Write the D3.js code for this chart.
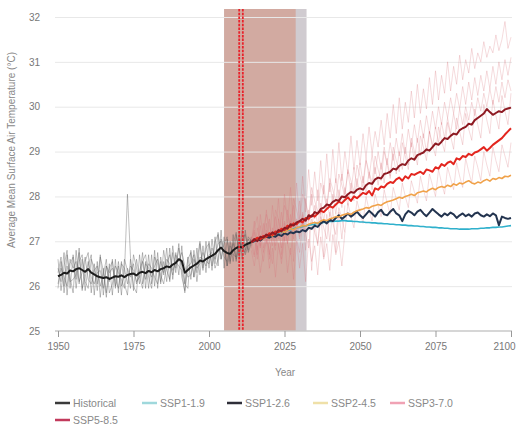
<!DOCTYPE html>
<html><head><meta charset="utf-8">
<script src="https://cdn.jsdelivr.net/npm/d3@7"></script>
<style>
html,body{margin:0;padding:0;background:#fff;}
svg{display:block;font-family:"Liberation Sans",Arial,sans-serif;}
</style></head>
<body><svg id="c" width="516" height="428"></svg>
<script>
// ---------- DATA ----------
const xTicks = [1950,1975,2000,2025,2050,2075,2100];
const yTicks = [25,26,27,28,29,30,31,32];
const histStart = 1950;
const futStart = 2014;

const historicalMean = [26.22,26.25,26.30,26.28,26.35,26.33,26.38,26.40,26.36,26.32,
26.38,26.30,26.26,26.22,26.20,26.18,26.20,26.16,26.19,26.22,
26.21,26.24,26.20,26.25,26.27,26.28,26.24,26.30,26.32,26.29,
26.34,26.31,26.36,26.33,26.38,26.40,26.44,26.42,26.48,26.52,
26.60,26.56,26.30,26.36,26.42,26.46,26.50,26.57,26.55,26.60,
26.64,26.68,26.72,26.80,26.86,26.78,26.74,26.72,26.80,26.85,
26.88,26.86,26.92,26.95,26.98];

const histMember1 = [26.60,25.90,26.45,26.80,25.95,26.70,26.15,26.85,25.90,26.55,
26.75,25.85,26.50,26.05,26.70,25.80,26.45,26.10,26.60,25.95,
26.55,26.00,26.30,28.05,26.65,25.90,26.60,26.20,26.75,25.95,
26.70,26.05,26.80,25.95,26.65,26.25,26.85,26.10,26.75,26.30,
26.95,26.20,25.90,26.65,26.15,26.80,26.30,26.95,26.35,27.00,
26.40,27.05,26.50,27.20,26.60,27.10,26.45,27.00,26.55,27.15,
26.70,27.25,26.80,27.10,27.00];
const histMember2 = [25.95,26.55,26.00,26.70,26.20,25.85,26.80,26.05,26.60,25.90,
26.45,26.70,25.80,26.55,25.75,26.40,25.85,26.50,25.80,26.60,
25.85,26.55,26.05,25.80,26.60,26.00,25.85,26.70,26.05,26.55,
25.95,26.70,26.00,26.75,26.05,26.55,26.10,26.85,26.15,26.75,
26.25,26.90,26.05,25.95,26.80,26.20,26.85,26.25,26.90,26.30,
27.00,26.35,27.10,26.45,27.25,26.40,27.05,26.50,27.15,26.55,
27.20,26.60,27.25,26.75,26.95];
const histMember3 = [26.40,26.10,26.75,25.80,26.50,26.65,25.95,26.55,26.70,26.10,
25.95,26.60,26.40,25.90,26.65,26.35,25.75,26.40,26.55,26.00,
26.45,25.80,26.60,26.35,25.95,26.70,26.40,26.05,26.55,26.70,
26.20,25.95,26.65,26.50,26.10,26.80,26.35,26.15,26.90,26.40,
26.85,26.45,26.05,26.60,26.75,26.20,26.55,27.00,26.40,26.85,
26.95,26.45,27.00,27.15,26.60,26.95,27.10,26.55,26.95,27.20,
26.65,27.05,27.15,26.80,27.10];
const histMember4 = [26.05,26.40,26.20,26.00,26.60,26.40,26.55,26.10,26.30,26.65,
26.15,26.05,26.35,26.45,26.00,26.25,26.60,25.85,26.05,26.45,
26.30,26.15,25.95,26.40,26.20,26.50,26.05,26.35,26.55,26.15,
26.50,26.40,26.20,26.05,26.55,26.30,26.60,26.50,26.25,26.70,
26.55,26.75,26.45,26.20,26.25,26.60,26.40,26.50,26.75,26.55,
26.50,26.85,26.60,26.95,27.00,26.65,26.55,26.90,26.70,26.65,
27.00,26.85,26.75,27.05,26.90];
const histMember5 = [26.30,26.65,25.85,26.45,26.10,26.15,26.25,26.75,25.95,26.20,
26.55,26.20,26.05,26.30,26.35,25.95,26.45,26.30,26.40,26.15,
25.95,26.50,26.40,26.05,26.45,26.35,26.10,26.20,25.95,26.50,
26.40,26.20,26.45,26.60,26.25,26.05,26.50,26.70,26.35,26.55,
26.45,26.35,25.85,26.45,26.50,26.70,26.10,26.65,26.60,26.45,
26.70,26.75,26.40,26.60,27.05,26.85,26.45,26.75,26.95,26.60,
26.85,26.95,26.70,26.90,27.05];

// scenario means, 2014..2100
const ssp585 = [26.98,27.05,27.00,27.10,27.08,27.15,
27.12,27.20,27.15,27.25,27.22,27.30,27.28,27.38,27.35,27.42,
27.45,27.50,27.46,27.58,27.55,27.65,27.62,27.72,27.75,27.82,
27.80,27.88,27.92,27.90,28.00,27.98,28.05,28.10,28.08,28.15,
28.18,28.15,28.25,28.30,28.28,28.38,28.42,28.40,28.50,28.52,
28.55,28.62,28.60,28.68,28.72,28.70,28.80,28.85,28.82,28.92,
28.95,28.98,29.05,29.02,29.10,29.18,29.15,29.22,29.30,29.28,
29.35,29.40,29.38,29.48,29.52,29.55,29.62,29.60,29.70,29.75,
29.80,29.85,29.95,29.88,29.82,29.86,29.90,29.88,29.94,29.96,29.98];
const ssp370 = [26.98,27.02,27.08,27.04,27.12,27.10,
27.18,27.14,27.22,27.20,27.28,27.25,27.35,27.32,27.40,27.38,
27.45,27.42,27.52,27.50,27.58,27.55,27.62,27.68,27.65,27.72,
27.78,27.75,27.82,27.88,27.85,27.92,27.98,27.90,28.00,27.96,
28.02,28.08,28.05,28.12,28.02,28.18,28.15,28.22,28.20,28.28,
28.32,28.30,28.38,28.42,28.35,28.45,28.40,28.50,28.48,28.52,
28.55,28.50,28.60,28.58,28.55,28.65,28.62,28.72,28.68,28.75,
28.78,28.72,28.85,28.82,28.90,28.88,28.95,28.92,28.98,29.00,
29.05,29.10,29.02,29.08,29.15,29.20,29.25,29.30,29.38,29.45,29.52];
const ssp245 = [26.98,27.02,27.05,27.08,27.06,27.12,
27.15,27.12,27.18,27.20,27.22,27.20,27.25,27.28,27.26,27.30,
27.32,27.35,27.34,27.38,27.40,27.42,27.40,27.45,27.48,27.46,
27.50,27.52,27.55,27.54,27.58,27.60,27.62,27.60,27.65,27.68,
27.70,27.72,27.75,27.74,27.78,27.80,27.82,27.80,27.85,27.88,
27.90,27.92,27.95,27.98,27.96,28.00,28.02,28.05,28.02,28.08,
28.10,28.12,28.10,28.15,28.18,28.15,28.20,28.22,28.20,28.25,
28.22,28.28,28.25,28.30,28.28,28.32,28.35,28.30,28.28,28.32,
28.30,28.35,28.38,28.34,28.40,28.38,28.42,28.40,28.45,28.44,28.47];
const ssp126 = [26.98,27.00,27.05,27.02,27.08,27.10,
27.08,27.12,27.10,27.15,27.12,27.18,27.15,27.20,27.18,27.22,
27.20,27.25,27.22,27.30,27.28,27.35,27.32,27.40,27.45,27.40,
27.48,27.45,27.52,27.58,27.50,27.55,27.62,27.55,27.60,27.66,
27.58,27.52,27.60,27.68,27.62,27.55,27.65,27.70,27.60,27.58,
27.66,27.72,27.62,27.58,27.45,27.60,27.68,27.64,27.58,27.66,
27.70,27.62,27.56,27.64,27.72,27.66,27.60,27.55,27.62,27.58,
27.64,27.60,27.52,27.58,27.62,27.56,27.60,27.55,27.62,27.64,
27.58,27.55,27.60,27.56,27.62,27.58,27.36,27.55,27.52,27.50,27.52];
const ssp119 = [26.98,27.00,27.03,27.05,27.08,27.10,
27.12,27.14,27.16,27.18,27.20,27.22,27.24,27.26,27.28,27.30,
27.31,27.33,27.34,27.36,27.37,27.38,27.40,27.41,27.42,27.43,
27.44,27.44,27.45,27.45,27.46,27.46,27.45,27.45,27.44,27.44,
27.43,27.43,27.42,27.42,27.41,27.41,27.40,27.40,27.39,27.39,
27.38,27.38,27.37,27.37,27.36,27.36,27.35,27.35,27.34,27.34,
27.33,27.33,27.32,27.32,27.31,27.31,27.30,27.30,27.29,27.29,
27.28,27.28,27.28,27.27,27.27,27.27,27.27,27.28,27.28,27.28,
27.29,27.29,27.30,27.30,27.31,27.31,27.32,27.32,27.33,27.34,27.35];

// scenario ensemble members, 2014..
const futMember1 = [26.95,27.45,26.80,27.60,27.05,27.70,
26.95,27.80,27.20,27.95,27.10,28.05,27.40,28.20,27.35,28.30,
27.50,28.45,27.65,28.60,27.80,28.55,27.90,28.80,28.05,28.95,
28.10,29.05,28.30,29.20,28.35,29.00,28.50,29.35,28.60,29.25,
28.70,29.40,28.85,29.55,28.95,29.45,29.10,29.70,29.15,29.85,
29.30,30.05,29.40,30.20,29.50,30.10,29.65,30.35,29.75,30.50,
29.85,30.40,29.95,30.65,30.05,30.80,30.15,30.70,30.30,31.00,
30.35,30.90,30.50,31.15,30.60,31.05,30.75,31.30,30.85,31.20,
31.00,31.45,31.10,31.35,31.20,31.60,31.25,31.50,31.90,31.30,31.55];
const futMember2 = [27.10,26.70,27.30,26.85,27.40,26.95,
27.50,26.90,27.55,27.05,27.65,27.00,27.70,27.15,27.80,27.20,
27.90,27.30,27.95,27.45,28.05,27.50,28.15,27.60,28.25,27.75,
28.30,27.85,28.40,27.90,28.50,28.05,28.55,28.10,28.65,28.20,
28.75,28.30,28.85,28.40,28.95,28.50,29.00,28.60,29.10,28.70,
29.20,28.80,29.30,28.90,29.40,28.95,29.50,29.10,29.60,29.20,
29.70,29.30,29.80,29.40,29.90,29.50,30.00,29.60,30.10,29.75,
30.20,29.85,30.30,29.95,30.45,30.05,30.55,30.15,30.65,30.25,
30.70,30.35,30.80,30.40,30.90,30.50,31.00,30.60,31.05,30.70,31.10];
const futMember3 = [26.85,27.20,26.60,27.05,26.75,27.25,
26.70,27.15,26.80,27.30,26.85,27.40,26.95,27.45,27.05,27.50,
27.10,27.60,27.20,27.70,27.25,27.80,27.35,27.85,27.45,27.95,
27.55,28.05,27.60,28.15,27.75,28.20,27.80,28.30,27.90,28.40,
28.00,28.45,28.05,28.55,28.15,28.65,28.25,28.75,28.30,28.85,
28.40,28.95,28.50,29.00,28.60,29.10,28.70,29.20,28.80,29.30,
28.90,29.40,29.00,29.45,29.10,29.55,29.20,29.65,29.30,29.75,
29.40,29.85,29.50,29.95,29.60,30.00,29.70,30.10,29.80,30.20,
29.90,30.30,30.00,30.40,30.05,30.45,30.10,30.55,30.20,30.60,30.35];
const futMember4 = [27.00,27.30,27.55,26.90,27.20,27.60,
27.35,27.05,27.70,27.50,27.15,27.80,27.60,27.30,27.95,27.70,
27.40,28.05,27.85,27.55,28.20,27.90,27.65,28.30,28.05,27.75,
28.40,28.15,27.90,28.50,28.25,28.00,28.60,28.35,28.10,28.70,
28.45,28.20,28.80,28.55,28.30,28.90,28.60,28.35,29.00,28.70,
28.45,29.10,28.80,28.55,29.20,28.90,28.60,29.30,29.00,28.70,
29.35,29.10,28.80,29.45,29.15,28.90,29.55,29.25,29.00,29.65,
29.35,29.05,29.75,29.45,29.15,29.85,29.50,29.25,29.95,29.60,
29.30,30.05,29.70,29.40,30.15,29.80,29.50,30.25,29.90,29.60,30.30];
const futMember5 = [26.90,26.65,27.10,26.95,26.55,27.05,
26.80,26.50,27.15,26.90,26.60,27.25,26.95,26.70,27.30,27.05,
26.75,27.40,27.15,26.85,27.50,27.20,26.95,27.55,27.30,27.05,
27.65,27.40,27.15,27.75,27.50,27.20,27.85,27.55,27.30,27.90,
27.65,27.40,28.00,27.70,27.45,28.05,27.80,27.55,28.15,27.85,
27.60,28.20,27.95,27.70,28.30,28.00,27.75,28.35,28.10,27.85,
28.45,28.15,27.90,28.50,28.25,28.00,28.60,28.30,28.05,28.65,
28.40,28.15,28.75,28.45,28.20,28.85,28.55,28.30,28.90,28.65,
28.35,29.00,28.70,28.45,29.10,28.80,28.55,29.15,28.90,28.65,29.20];
const futMember6 = [26.80,26.45,26.90,26.30,26.75,27.05,26.40,26.85,26.20,26.95,
26.50,27.10,26.30,26.85,26.15,27.00,26.40,26.95,26.10,27.05,
26.55,26.90,26.25,27.10,26.60,26.95,26.35,27.15,26.70,27.00,26.45,27.20];
const futMember7 = [26.95,27.25,26.70,27.35,26.85,27.40,26.60,27.30,26.90,27.50,
26.70,27.45,26.95,27.60,26.55,27.40,27.05,27.65,26.80,27.55,
26.35,27.45,26.90,27.70,26.65,27.60,27.00,27.75,26.75,27.65,27.05,27.80];

const seriesNames = ["Historical","SSP1-1.9","SSP1-2.6","SSP2-4.5","SSP3-7.0","SSP5-8.5"];
const lineColors = ["#1c1c1c","#2fb0cc","#23344f","#f0a24a","#e3261f","#8e1a22"];
const legendColors = ["#3a3a3a","#9fd8dc","#2e2e38","#efe0a8","#f0a2b4","#c23a5c"];
const bandYears = [2005, 2028.7, 2032.3];
const markerYears = [2010, 2011.2];

// ---------- CHART ----------
const svg = d3.select("#c");
const x = d3.scaleLinear().domain([1950,2100]).range([58,511]);
const y = d3.scaleLinear().domain([25,32]).range([331,17]);

// bands
svg.append("rect").attr("x",x(bandYears[0])).attr("y",y(32)-8)
  .attr("width",x(bandYears[2])-x(bandYears[0])).attr("height",y(25)-y(32)+8)
  .attr("fill","#d0cbd0");
svg.append("rect").attr("x",x(bandYears[0])).attr("y",y(32)-8)
  .attr("width",x(bandYears[1])-x(bandYears[0])).attr("height",y(25)-y(32)+8)
  .attr("fill","#d2aaa1");

// gridlines
const grid = svg.append("g").attr("transform","translate(55,0)")
  .call(d3.axisLeft(y).tickValues(yTicks.slice(1)).tickSize(-457).tickFormat(""));
grid.select(".domain").remove();
grid.selectAll("line").attr("stroke","#e8e8e8").attr("stroke-width",1);

// y tick labels
const ya = svg.append("g").attr("transform","translate(40,0)")
  .call(d3.axisLeft(y).tickValues(yTicks).tickSize(0).tickPadding(0).tickFormat(d3.format("d")));
ya.select(".domain").remove();
ya.selectAll("text").attr("fill","#777").attr("font-size","10px").attr("font-family","Liberation Sans, Arial, sans-serif");

// x axis
const xa = svg.append("g").attr("transform",`translate(0,${y(25)})`)
  .call(d3.axisBottom(x).tickValues(xTicks).tickSize(6).tickPadding(6).tickFormat(d3.format("d")));
xa.select(".domain").attr("stroke","#c8c8c8").attr("stroke-width",1.5).attr("d","M55,0H512");
xa.selectAll("line").attr("stroke","#999");
xa.selectAll("text").attr("fill","#777").attr("font-size","10px").attr("font-family","Liberation Sans, Arial, sans-serif")
  .attr("dx",d=>d===2100?"-7":"0");

const lineFrom = start => d3.line().x((d,i)=>x(start+i)).y(d=>y(d));

// historical members
[histMember1,histMember2,histMember3,histMember4,histMember5].forEach(m=>{
  svg.append("path").attr("d",lineFrom(histStart)(m)).attr("fill","none")
    .attr("stroke","#5a5a5a").attr("stroke-opacity",0.38).attr("stroke-width",1);
});
// future members
[futMember1,futMember2,futMember3,futMember4,futMember5,futMember6,futMember7].forEach(m=>{
  svg.append("path").attr("d",lineFrom(futStart)(m)).attr("fill","none")
    .attr("stroke","#d9737a").attr("stroke-opacity",0.26).attr("stroke-width",1);
});

// mean lines
const means = [
  {data:historicalMean,start:histStart,c:lineColors[0],w:2},
  {data:ssp119,start:futStart,c:lineColors[1],w:1.6},
  {data:ssp126,start:futStart,c:lineColors[2],w:2},
  {data:ssp245,start:futStart,c:lineColors[3],w:1.6},
  {data:ssp370,start:futStart,c:lineColors[4],w:2},
  {data:ssp585,start:futStart,c:lineColors[5],w:2}
];
means.forEach(s=>{
  svg.append("path").attr("d",lineFrom(s.start)(s.data)).attr("fill","none")
    .attr("stroke",s.c).attr("stroke-width",s.w).attr("stroke-linejoin","round");
});

// marker lines
markerYears.forEach(yr=>{
  svg.append("line").attr("x1",x(yr)).attr("x2",x(yr)).attr("y1",y(32)-8).attr("y2",y(25))
    .attr("stroke","#e8222a").attr("stroke-width",1.8).attr("stroke-dasharray","2.5,1.2");
});

// axis titles
svg.append("text").attr("x",285).attr("y",376).attr("text-anchor","middle")
  .attr("font-size","10px").attr("fill","#888").text("Year");
svg.append("text").attr("transform","translate(15,150) rotate(-90)").attr("text-anchor","middle")
  .attr("font-size","10px").attr("fill","#888").text("Average Mean Surface Air Temperature (°C)");

// legend
const legPos = [[55,403],[142,403],[227,403],[313,403],[390,403],[55,420]];
seriesNames.forEach((n,i)=>{
  const g = svg.append("g").attr("transform",`translate(${legPos[i][0]},${legPos[i][1]})`);
  g.append("line").attr("x1",0).attr("x2",15).attr("y1",0).attr("y2",0)
    .attr("stroke",legendColors[i]).attr("stroke-width",2.5);
  g.append("text").attr("x",18).attr("y",3.5).attr("font-size","10.5px").attr("fill","#888").text(n);
});
</script></body></html>
